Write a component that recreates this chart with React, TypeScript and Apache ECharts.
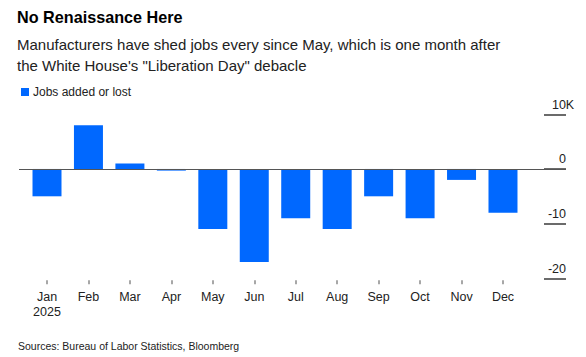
import React, { useEffect, useRef } from "react";
import * as echarts from "echarts";

const months = ["Jan", "Feb", "Mar", "Apr", "May", "Jun", "Jul", "Aug", "Sep", "Oct", "Nov", "Dec"];
const jobsChange = [-5000, 8000, 1000, -300, -11000, -17000, -9000, -11000, -5000, -9000, -2000, -8000];
const yTicks = [-20000, -10000, 0, 10000];
const yearLabel = "2025";
const titleText = "No Renaissance Here";
const subtitleLines = [
  "Manufacturers have shed jobs every since May, which is one month after",
  "the White House's \"Liberation Day\" debacle",
];
const legendName = "Jobs added or lost";
const sourceText = "Sources: Bureau of Labor Statistics, Bloomberg";

const FONT = "'Liberation Sans', Arial, sans-serif";
const BLUE = "#0068ff";

export default function App() {
  const ref = useRef<HTMLDivElement>(null);
  useEffect(() => {
    if (!ref.current) return;
    const chart = echarts.init(ref.current, null, { renderer: "svg" });
    chart.setOption({
      animation: false,
      backgroundColor: "#ffffff",
      textStyle: { fontFamily: FONT },
      graphic: [
        {
          type: "text",
          left: 17,
          top: 9,
          style: { text: titleText, font: `bold 16.2px ${FONT}`, fill: "#000" },
        },
        {
          type: "text",
          left: 17,
          top: 34.5,
          style: {
            text: subtitleLines.join("\n"),
            font: `15px ${FONT}`,
            lineHeight: 20.5,
            fill: "#222",
          },
        },
        {
          type: "text",
          left: 18,
          top: 340,
          style: { text: sourceText, font: `10.5px ${FONT}`, fill: "#222" },
        },
      ],
      legend: {
        left: 16,
        top: 81,
        icon: "rect",
        itemWidth: 8,
        itemHeight: 8,
        itemGap: 10,
        selectedMode: false,
        textStyle: { fontSize: 12, color: "#222", fontFamily: FONT, padding: [0, 0, 0, -1] },
        data: [legendName],
      },
      grid: { left: 19, right: 20, top: 114.3, bottom: 78.7 },
      xAxis: {
        type: "value",
        min: -0.6755,
        max: 12.52,
        offset: 2,
        axisLine: { show: false, onZero: false },
        splitLine: { show: false },
        axisTick: {
          show: true,
          length: 4,
          customValues: months.map((_, i) => i),
          lineStyle: { color: "#8a8a8a", width: 1.5 },
        },
        axisLabel: {
          show: true,
          customValues: months.map((_, i) => i),
          formatter: (v: number) => {
            const i = Math.round(v);
            return i === 0 ? `${months[i]}\n${yearLabel}` : months[i] ?? "";
          },
          margin: 9,
          fontSize: 12.5,
          lineHeight: 15,
          color: "#222",
          fontFamily: FONT,
          verticalAlign: "top",
        },
      },
      yAxis: {
        type: "value",
        position: "right",
        min: yTicks[0],
        max: yTicks[yTicks.length - 1],
        interval: 10000,
        splitLine: { show: false },
        axisLine: { show: false, onZero: false },
        axisTick: { show: true, inside: true, length: 22, lineStyle: { color: "#3a3a3a", width: 1.5 } },
        axisLabel: {
          inside: true,
          margin: -8,
          verticalAlign: "bottom",
          padding: [0, 0, 3, 0],
          formatter: (v: number) =>
            v === 10000 ? `{n|${v / 1000}}{u|K}` : `{n|${v / 1000}}{u|\u00a0}`,
          rich: {
            n: { fontSize: 12.5, color: "#222", fontFamily: FONT },
            u: { fontSize: 12.5, color: "#222", fontFamily: FONT, width: 8 },
          },
        },
      },
      series: [
        {
          name: legendName,
          type: "bar",
          barWidth: 29,
          itemStyle: { color: BLUE },
          data: jobsChange.map((v, i) => [i, v]),
          markLine: {
            silent: true,
            symbol: "none",
            label: { show: false },
            lineStyle: { color: "#555", width: 1, type: "solid" },
            data: [{ yAxis: 0 }],
          },
        },
      ],
    });
    return () => chart.dispose();
  }, []);
  return (
    <div
      ref={ref}
      style={{ position: "absolute", left: 0, top: 0, width: 586, height: 357 }}
    />
  );
}
